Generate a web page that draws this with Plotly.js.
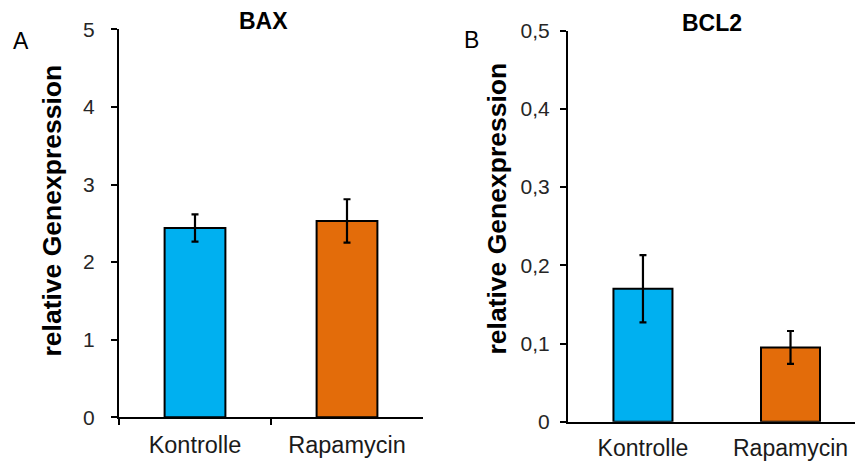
<!DOCTYPE html>
<html>
<head>
<meta charset="utf-8">
<script src="https://cdn.plot.ly/plotly-3.0.1.min.js"></script>
<style>html,body{margin:0;padding:0;background:#fff;}#chart{width:855px;height:464px;}</style>
</head>
<body>
<div id="chart"></div>
<script>
// ---- data ----
const categories = ["Kontrolle", "Rapamycin"];
const baxValues = [2.44, 2.53];
const baxErrors = [0.175, 0.28];
const bcl2Values = [0.170, 0.095];
const bcl2Errors = [0.043, 0.021];
const baxTitle = "BAX";
const bcl2Title = "BCL2";
const yTitle = "relative Genexpression";
const panelLabels = ["A", "B"];

// ---- layout helpers ----
const W = 855, H = 464;
const px = x => x / W;
const py = y => 1 - y / H;
const barColors = ["#00B0F0", "#E36C0A"];
const FONT = "Liberation Sans, Arial, sans-serif";

const errStyle = {type: "data", visible: true, color: "#000", thickness: 2.2, width: 3.5};

const traces = [
  {
    type: "bar", x: categories, y: baxValues, xaxis: "x", yaxis: "y",
    width: 0.4,
    marker: {color: barColors, line: {color: "#000", width: 2}},
    error_y: Object.assign({array: baxErrors}, errStyle),
    hoverinfo: "x+y"
  },
  {
    type: "bar", x: categories, y: bcl2Values, xaxis: "x2", yaxis: "y2",
    width: 0.4,
    marker: {color: barColors, line: {color: "#000", width: 2}},
    error_y: Object.assign({array: bcl2Errors}, errStyle),
    hoverinfo: "x+y"
  }
];

const tickFont = {family: FONT, size: 21, color: "#262626"};
const catFont = {family: FONT, size: 23.5, color: "#1a1a1a"};
const catFont2 = {family: FONT, size: 23, color: "#1a1a1a"};

const layout = {
  width: W, height: H,
  margin: {l: 0, r: 0, t: 0, b: 0},
  paper_bgcolor: "#fff", plot_bgcolor: "#fff",
  showlegend: false,
  separators: ", ",
  font: {family: FONT},
  xaxis: {
    domain: [px(119), px(423)],
    anchor: "y",
    range: [-0.5, 1.5],
    type: "category",
    showline: true, linecolor: "#000", linewidth: 2,
    ticks: "outside", tickson: "boundaries", ticklen: 6, tickwidth: 2, tickcolor: "#000",
    tickfont: catFont, ticklabelstandoff: 5,
    showgrid: false, zeroline: false, fixedrange: true
  },
  yaxis: {
    domain: [py(417.3), py(29.3)],
    anchor: "x",
    range: [0, 5], dtick: 1,
    showline: true, linecolor: "#000", linewidth: 2,
    ticks: "outside", ticklen: 6, tickwidth: 2, tickcolor: "#000",
    tickfont: tickFont, ticklabelstandoff: 12,
    showgrid: false, zeroline: false, fixedrange: true
  },
  xaxis2: {
    domain: [px(568), 1],
    anchor: "y2",
    range: [-0.508, 1.437],
    type: "category",
    showline: true, linecolor: "#000", linewidth: 2,
    ticks: "",
    tickfont: catFont2, ticklabelstandoff: 5,
    showgrid: false, zeroline: false, fixedrange: true
  },
  yaxis2: {
    domain: [py(421.7), py(30.7)],
    anchor: "x2",
    range: [0, 0.5], dtick: 0.1,
    showline: true, linecolor: "#000", linewidth: 2,
    ticks: "outside", ticklen: 6, tickwidth: 2, tickcolor: "#000",
    tickfont: tickFont, ticklabelstandoff: 6,
    showgrid: false, zeroline: false, fixedrange: true
  },
  annotations: [
    {text: "<b>" + baxTitle + "</b>", xref: "paper", yref: "paper", x: px(263.5), y: py(21),
     xanchor: "center", yanchor: "middle", showarrow: false, font: {family: FONT, size: 23, color: "#000"}},
    {text: "<b>" + bcl2Title + "</b>", xref: "paper", yref: "paper", x: px(712), y: py(22.5),
     xanchor: "center", yanchor: "middle", showarrow: false, font: {family: FONT, size: 23, color: "#000"}},
    {text: "<b>" + yTitle + "</b>", xref: "paper", yref: "paper", x: px(51), y: py(210.5), textangle: -90,
     xanchor: "center", yanchor: "middle", showarrow: false, font: {family: FONT, size: 26.5, color: "#000"}},
    {text: "<b>" + yTitle + "</b>", xref: "paper", yref: "paper", x: px(496.5), y: py(209), textangle: -90,
     xanchor: "center", yanchor: "middle", showarrow: false, font: {family: FONT, size: 26.5, color: "#000"}},
    {text: panelLabels[0], xref: "paper", yref: "paper", x: px(21), y: py(41),
     xanchor: "center", yanchor: "middle", showarrow: false, font: {family: FONT, size: 23, color: "#000"}},
    {text: panelLabels[1], xref: "paper", yref: "paper", x: px(471.5), y: py(39.5),
     xanchor: "center", yanchor: "middle", showarrow: false, font: {family: FONT, size: 23, color: "#000"}}
  ]
};

Plotly.newPlot("chart", traces, layout, {displayModeBar: false, staticPlot: true});
</script>
</body>
</html>
